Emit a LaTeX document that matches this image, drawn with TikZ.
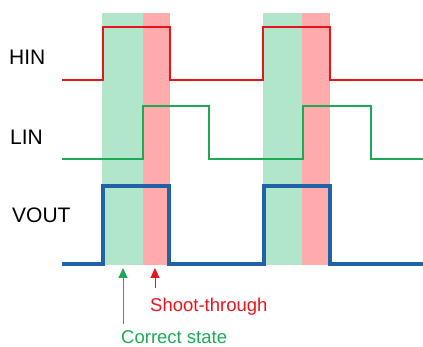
\documentclass[tikz,border=0pt]{standalone}
\usepackage{fontspec}
\setmainfont{Liberation Sans}
\usetikzlibrary{arrows.meta}
\definecolor{hinred}{HTML}{E8141C}
\definecolor{lingreen}{HTML}{1EAA55}
\definecolor{voutblue}{HTML}{1F62A6}
\definecolor{okband}{HTML}{B2E6CB}
\definecolor{badband}{HTML}{FFABAB}
\tikzset{
  siglabel/.style={font=\fontsize{21}{24}\selectfont, anchor=west, inner sep=0pt},
  notelabel/.style={font=\fontsize{18.5}{21}\selectfont, anchor=west, inner sep=0pt},
  okzone/.style={fill=okband, draw=none},
  badzone/.style={fill=badband, draw=none},
  wave/.style={line width=2.3pt, line join=miter},
  pointer/.style={line width=1pt, -{Triangle[length=10pt,width=9pt]}}
}
\begin{document}
\begin{tikzpicture}[x=1pt,y=-1pt]
  \useasboundingbox (0,0) rectangle (423,347);
  % dead-time windows
  \fill[okzone]  (102,13) rectangle (143,265);
  \fill[badzone] (143,13) rectangle (170,265);
  \fill[okzone]  (263,13) rectangle (302,265);
  \fill[badzone] (302,13) rectangle (330,265);
  % signal names
  \node[siglabel] (hin)  at (9,57)  {HIN};
  \node[siglabel] (lin)  at (10,137) {LIN};
  \node[siglabel] (vout) at (12,215) {VOUT};
  % waveforms
  \draw[wave, hinred] (62,80) -- (103,80) -- (103,27) -- (170,27) -- (170,80)
    -- (263,80) -- (263,27) -- (330,27) -- (330,80) -- (423,80);
  \draw[wave, lingreen] (62,159) -- (143,159) -- (143,106) -- (209,106) -- (209,159)
    -- (303,159) -- (303,106) -- (371,106) -- (371,159) -- (423,159);
  \draw[wave, voutblue, line width=3.5pt] (62,264) -- (103,264) -- (103,186) -- (169,186) -- (169,264)
    -- (264,264) -- (264,186) -- (330,186) -- (330,264) -- (423,264);
  % annotations
  \node[notelabel, text=hinred]   (shoot)   at (150,307) {Shoot-through};
  \node[notelabel, text=lingreen] (correct) at (121,337) {Correct state};
  \coordinate (okpt)  at (123,268);
  \coordinate (badpt) at (155,268);
  \draw[pointer, lingreen] (correct.north west -| okpt) ++(0,-6) -- (okpt);
  \draw[pointer, hinred]   (shoot.north west -| badpt) ++(0,-10) -- (badpt);
\end{tikzpicture}
\end{document}
